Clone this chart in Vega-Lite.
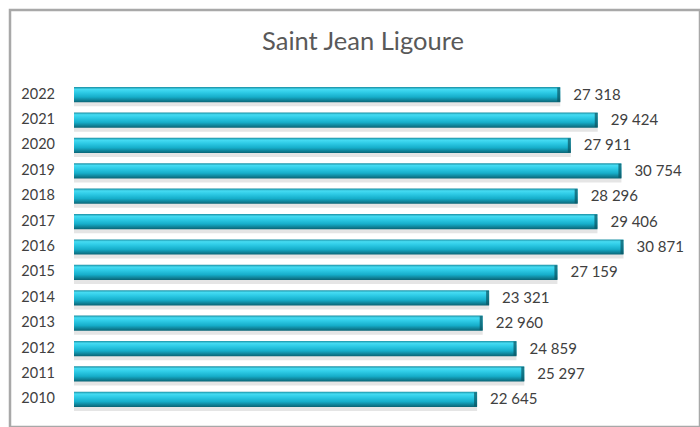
{
  "$schema": "https://vega.github.io/schema/vega-lite/v6.json",
  "autosize": "none",
  "width": 690,
  "height": 417,
  "padding": {"left": 10, "top": 10, "right": 0, "bottom": 0},
  "background": "white",
  "config": {
    "view": {"stroke": "#a8a8a8", "strokeWidth": 2.5},
    "locale": {"number": {"decimal": ",", "thousands": " ", "grouping": [3], "currency": ["", " €"]}},
    "font": "Lato"
  },
  "title": {
    "text": "Saint Jean Ligoure",
    "fontSize": 25.5,
    "font": "Lato",
    "fontWeight": "normal",
    "color": "#595959",
    "anchor": "middle",
    "dx": 8,
    "offset": -45
  },
  "data": {
    "values": [
      {"year": "2022", "value": 27318},
      {"year": "2021", "value": 29424},
      {"year": "2020", "value": 27911},
      {"year": "2019", "value": 30754},
      {"year": "2018", "value": 28296},
      {"year": "2017", "value": 29406},
      {"year": "2016", "value": 30871},
      {"year": "2015", "value": 27159},
      {"year": "2014", "value": 23321},
      {"year": "2013", "value": 22960},
      {"year": "2012", "value": 24859},
      {"year": "2011", "value": 25297},
      {"year": "2010", "value": 22645}
    ]
  },
  "encoding": {
    "y": {
      "field": "year",
      "type": "nominal",
      "sort": "descending",
      "axis": null,
      "scale": {"range": [72, 402], "paddingInner": 0.4, "paddingOuter": 0.2}
    }
  },
  "layer": [
    {
      "mark": {"type": "bar", "color": "#cfcfcf", "opacity": 0.55, "yOffset": 4, "x2Offset": 3},
      "encoding": {
        "x": {"field": "value", "type": "quantitative", "axis": null, "scale": {"domain": [0, 35000], "range": [64, 687], "nice": false}}
      }
    },
    {
      "mark": {
        "type": "bar",
        "color": {
          "gradient": "linear", "x1": 0, "y1": 0, "x2": 0, "y2": 1,
          "stops": [
            {"offset": 0, "color": "#1a8ea2"},
            {"offset": 0.15, "color": "#45dbf2"},
            {"offset": 0.35, "color": "#2ecbe6"},
            {"offset": 0.65, "color": "#16aeca"},
            {"offset": 1, "color": "#0a6475"}
          ]
        }
      },
      "encoding": {
        "x": {"field": "value", "type": "quantitative"}
      }
    },
    {
      "mark": {"type": "tick", "color": "#0b5563", "thickness": 3, "size": 14, "xOffset": -1.5},
      "encoding": {
        "x": {"field": "value", "type": "quantitative"}
      }
    },
    {
      "mark": {"type": "text", "align": "left", "baseline": "middle", "dx": 13, "fontSize": 15, "color": "#404040"},
      "encoding": {
        "x": {"field": "value", "type": "quantitative"},
        "text": {"field": "value", "type": "quantitative", "format": ",d"}
      }
    },
    {
      "mark": {"type": "text", "align": "right", "baseline": "middle", "dx": -19, "fontSize": 14.5, "color": "#404040"},
      "encoding": {
        "x": {"datum": 0, "type": "quantitative"},
        "text": {"field": "year", "type": "nominal"}
      }
    }
  ]
}
